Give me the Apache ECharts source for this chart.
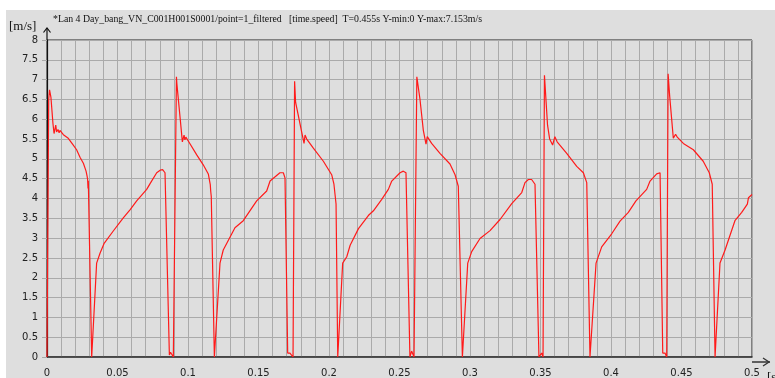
<!DOCTYPE html>
<html>
<head>
<meta charset="utf-8">
<script src="https://cdn.jsdelivr.net/npm/echarts@6/dist/echarts.min.js"></script>
<style>
html,body{margin:0;padding:0;background:#ffffff;}
#wrap{position:relative;width:775px;height:378px;background:#ffffff;overflow:hidden;}
#chart{position:absolute;left:6px;top:10px;width:769px;height:368px;}
</style>
</head>
<body>
<div id="wrap"><div id="chart"></div></div>
<script>
// Chart text
var titleText = "*Lan 4 Day_bang_VN_C001H001S0001/point=1_filtered   [time.speed]  T=0.455s Y-min:0 Y-max:7.153m/s";
var yUnit = "[m/s]";
var xUnit = "[s]";

// time [s]
var timeS = [
  0.0000, 0.0006, 0.0012, 0.0018, 0.0028, 0.0042, 0.0050, 0.0062, 0.0068, 0.0078, 0.0086, 0.0092,
  0.0116, 0.0151, 0.0180, 0.0210, 0.0234, 0.0258, 0.0277, 0.0285, 0.0288, 0.0291, 0.0293,
  0.0317, 0.0329, 0.0352, 0.0376, 0.0404, 0.0470, 0.0541, 0.0590, 0.0636, 0.0707, 0.0730,
  0.0778, 0.0805, 0.0820, 0.0837, 0.0868, 0.0876, 0.0884, 0.0896, 0.0902, 0.0918,
  0.0921, 0.0945, 0.0960, 0.0972, 0.0978, 0.0985, 0.1002, 0.1062, 0.1108, 0.1144, 0.1158,
  0.1161, 0.1165, 0.1187, 0.1197, 0.1227, 0.1250, 0.1333, 0.1392, 0.1487, 0.1558, 0.1582,
  0.1652, 0.1676, 0.1688, 0.1707, 0.1723, 0.1745, 0.1756, 0.1760, 0.1763, 0.1806, 0.1823,
  0.1830, 0.1842, 0.1889, 0.1960, 0.2019, 0.2035, 0.2050, 0.2062, 0.2071, 0.2097, 0.2126,
  0.2150, 0.2209, 0.2279, 0.2315, 0.2374, 0.2421, 0.2445, 0.2504, 0.2527, 0.2546, 0.2574,
  0.2586, 0.2603, 0.2623, 0.2633, 0.2645, 0.2669, 0.2688, 0.2697, 0.2711, 0.2728, 0.2787,
  0.2858, 0.2894, 0.2917, 0.2946, 0.2953, 0.2984, 0.3012, 0.3071, 0.3142, 0.3213, 0.3296,
  0.3367, 0.3390, 0.3414, 0.3437, 0.3461, 0.3489, 0.3508, 0.3518, 0.3528, 0.3540, 0.3550,
  0.3565, 0.3586, 0.3602, 0.3618, 0.3686, 0.3757, 0.3804, 0.3828, 0.3851, 0.3863, 0.3894,
  0.3934, 0.4005, 0.4064, 0.4123, 0.4177, 0.4253, 0.4277, 0.4324, 0.4348, 0.4367, 0.4383,
  0.4395, 0.4405, 0.4411, 0.4416, 0.4442, 0.4458, 0.4470, 0.4513, 0.4584, 0.4654, 0.4697,
  0.4718, 0.4738, 0.4773, 0.4809, 0.4879, 0.4927, 0.4967, 0.4975, 0.5000
];
// speed [m/s]
var speedMS = [
  0.00, 0.00, 6.50, 6.74, 6.55, 5.90, 5.64, 5.85, 5.68, 5.74, 5.66, 5.72,
  5.61, 5.52, 5.38, 5.23, 5.04, 4.89, 4.69, 4.55, 4.48, 4.25, 4.45,
  0.00, 0.00, 2.37, 2.62, 2.86, 3.18, 3.51, 3.72, 3.94, 4.23, 4.37,
  4.65, 4.72, 4.73, 4.65, 0.05, 0.12, 0.15, 0.00, 0.00, 7.07,
  6.90, 6.00, 5.43, 5.60, 5.48, 5.55, 5.45, 5.10, 4.85, 4.62, 4.35,
  4.19, 4.05, 0.00, 0.00, 2.37, 2.70, 3.26, 3.44, 3.94, 4.19, 4.44,
  4.65, 4.65, 4.52, 0.10, 0.10, 0.00, 6.96, 6.96, 6.43, 5.68, 5.39,
  5.60, 5.50, 5.27, 4.94, 4.60, 4.36, 3.86, 0.00, 0.00, 2.37, 2.53,
  2.82, 3.24, 3.57, 3.69, 3.98, 4.23, 4.44, 4.65, 4.69, 4.65, 0.00,
  0.15, 0.00, 7.07, 7.07, 6.51, 5.72, 5.37, 5.56, 5.52, 5.39, 5.14,
  4.87, 4.60, 4.31, 0.00, 0.00, 2.37, 2.66, 2.99, 3.19, 3.47, 3.87,
  4.15, 4.40, 4.48, 4.48, 4.36, 0.00, 0.10, 0.00, 7.11, 7.11, 5.85,
  5.50, 5.35, 5.56, 5.43, 5.14, 4.81, 4.65, 4.40, 0.00, 0.00, 2.37,
  2.78, 3.11, 3.43, 3.65, 3.94, 4.23, 4.44, 4.62, 4.65, 0.10, 0.10,
  0.00, 7.15, 7.15, 6.59, 5.52, 5.62, 5.55, 5.39, 5.23, 4.94, 4.65,
  4.36, 0.00, 2.37, 2.70, 3.44, 3.65, 3.86, 4.02, 4.10
];

var seriesData = timeS.map(function (t, i) { return [t, speedMS[i]]; });

var chart = echarts.init(document.getElementById('chart'), null, {renderer: 'canvas'});
var gridColor = '#aaaaaa';
var labelFont = 'DejaVu Sans';
var option = {
  animation: false,
  backgroundColor: '#dedede',
  title: {
    text: titleText,
    left: 47, top: 4, padding: 0,
    textStyle: {fontFamily: 'Liberation Serif', fontSize: 9.8, fontWeight: 'normal', color: '#111'}
  },
  grid: {
    left: 41, top: 30, right: 23, bottom: 16,
    show: true, borderColor: '#222', borderWidth: 1, backgroundColor: 'transparent',
    containLabel: false
  },
  xAxis: {
    type: 'value', min: 0, max: 0.5, interval: 0.05,
    axisLine: {show: true, lineStyle: {color: '#333', width: 1.5}},
    axisTick: {show: false},
    axisLabel: {fontFamily: labelFont, fontSize: 10, color: '#222', margin: 11, showMaxLabel: true},
    splitLine: {show: true, lineStyle: {color: gridColor, width: 1}},
    minorTick: {show: false, splitNumber: 5},
    minorSplitLine: {show: true, lineStyle: {color: gridColor, width: 1}}
  },
  yAxis: {
    type: 'value', min: 0, max: 8, interval: 0.5,
    axisLine: {show: true, lineStyle: {color: '#111', width: 1.2}},
    axisTick: {show: true, length: 5, lineStyle: {color: gridColor}},
    axisLabel: {fontFamily: labelFont, fontSize: 10, color: '#222', margin: 9},
    splitLine: {show: true, lineStyle: {color: gridColor, width: 1}}
  },
  graphic: [
    {type: 'polyline', z: 100, shape: {points: [[746, 352], [764, 352]]}, style: {stroke: '#333', lineWidth: 1.5, fill: null}},
    {type: 'polyline', z: 100, shape: {points: [[757, 348], [763, 352], [757, 356]]}, style: {stroke: '#333', lineWidth: 1.3, fill: null}},
    {type: 'polyline', z: 100, shape: {points: [[41, 30], [41, 18]]}, style: {stroke: '#111', lineWidth: 1.2, fill: null}},
    {type: 'polyline', z: 100, shape: {points: [[37.5, 22.5], [41, 18], [44.5, 22.5]]}, style: {stroke: '#111', lineWidth: 1.2, fill: null}},
    {type: 'text', z: 100, left: 3, top: 10, style: {text: yUnit, font: '13px "Liberation Serif"', fill: '#111'}},
    {type: 'text', z: 100, left: 761, top: 361, style: {text: xUnit, font: '13px "Liberation Serif"', fill: '#111'}}
  ],
  series: [{
    type: 'line',
    data: seriesData,
    showSymbol: false,
    symbol: 'none',
    lineStyle: {color: '#ff1a1a', width: 1.2},
    z: 5
  }]
};
chart.setOption(option);
</script>
</body>
</html>
